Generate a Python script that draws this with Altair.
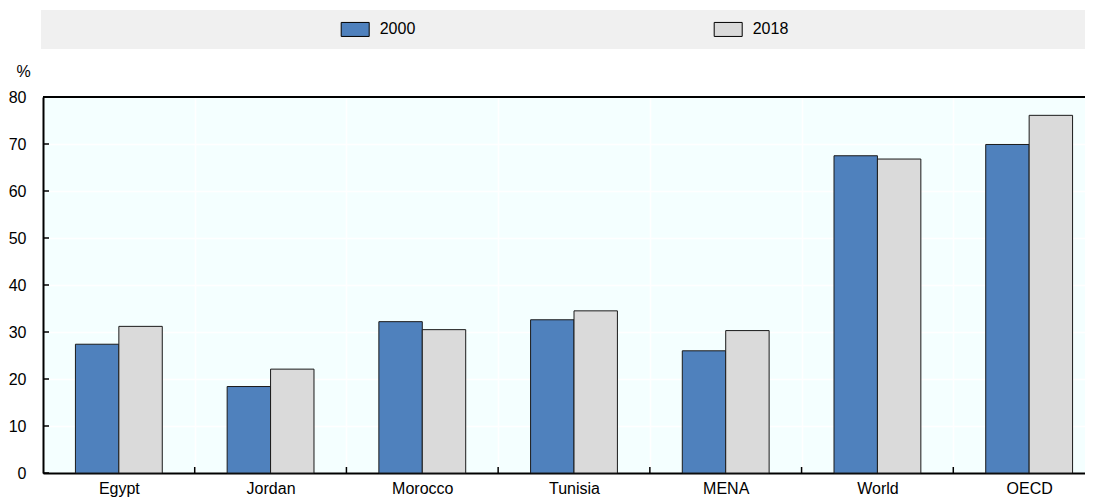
import altair as alt
import pandas as pd

countries = ["Egypt", "Jordan", "Morocco", "Tunisia", "MENA", "World", "OECD"]
years = ["2000", "2018"]
values_2000 = [27.4, 18.4, 32.2, 32.6, 26.0, 67.5, 69.9]
values_2018 = [31.2, 22.1, 30.5, 34.5, 30.3, 66.8, 76.1]
y_ticks = [0, 10, 20, 30, 40, 50, 60, 70, 80]
colors = ["#4F81BD", "#DADADA"]

rows = []
for c, a, b in zip(countries, values_2000, values_2018):
    rows.append({"country": c, "year": years[0], "value": a})
    rows.append({"country": c, "year": years[1], "value": b})
df = pd.DataFrame(rows)
tick_df = pd.DataFrame({"v": y_ticks})
xtick_df = pd.DataFrame({"country": countries[1:]})
one = pd.DataFrame({"a": [0]})

FONT = "Liberation Sans, Arial, sans-serif"
FS = 16
RANGE_W = 1062
PLOT_W = 1042
PLOT_H = 376

xscale = alt.Scale(domain=countries, range=[0, RANGE_W], paddingInner=0, paddingOuter=0)
yscale = alt.Scale(domain=[0, 80])

x_axis = alt.Axis(
    tickBand="extent", grid=True, gridColor="white", gridWidth=1.5,
    ticks=False, domainColor="black", domainWidth=2,
    labelFont=FONT, labelFontSize=FS, labelColor="black", labelPadding=7,
    labelAngle=0, title=None,
)
y_axis = alt.Axis(
    values=y_ticks, grid=True, gridColor="white", gridWidth=1.5,
    ticks=False, domainColor="black", domainWidth=2,
    labelFont=FONT, labelFontSize=FS, labelColor="black", labelPadding=17,
    title="%", titleAngle=0, titleX=-20, titleY=-26, titleFont=FONT,
    titleFontSize=FS, titleFontWeight="normal", titleColor="black",
    titleAlign="center", titleBaseline="middle",
)

legend_bg = alt.Chart(one).mark_rect(color="#F0F0F0").encode(
    x=alt.value(-2), x2=alt.value(RANGE_W), y=alt.value(-87), y2=alt.value(-48)
)

bars = alt.Chart(df).mark_bar(stroke="#1a1a1a", strokeWidth=1).encode(
    x=alt.X("country:N", scale=xscale, axis=x_axis, sort=countries),
    xOffset=alt.XOffset("year:N", scale=alt.Scale(domain=years, paddingOuter=0.747, paddingInner=0)),
    y=alt.Y("value:Q", scale=yscale, axis=y_axis),
    color=alt.Color(
        "year:N",
        scale=alt.Scale(domain=years, range=colors),
        legend=alt.Legend(
            orient="none", legendX=297.7, legendY=-82.3, direction="horizontal",
            title=None, padding=0, columnPadding=296, labelOffset=10,
            symbolType="M-1,-0.5H1V0.5H-1Z", symbolSize=784,
            symbolStrokeColor="black", symbolStrokeWidth=1,
            labelFont=FONT, labelFontSize=FS, labelColor="black",
        ),
    ),
)

yticks = alt.Chart(tick_df).mark_rule(color="black", strokeWidth=1.5).encode(
    y=alt.Y("v:Q", scale=yscale), x=alt.value(0), x2=alt.value(6)
)
xticks = alt.Chart(xtick_df).mark_rule(color="black", strokeWidth=1.5).encode(
    x=alt.X("country:N", scale=xscale, bandPosition=0),
    y=alt.value(PLOT_H - 6), y2=alt.value(PLOT_H),
)
top_line = alt.Chart(one).mark_rule(color="black", strokeWidth=2).encode(
    x=alt.value(0), x2=alt.value(RANGE_W), y=alt.value(0)
)

chart = alt.layer(legend_bg, bars, yticks, xticks, top_line).properties(
    width=PLOT_W, height=PLOT_H,
    padding={"left": 35, "top": 89, "right": 0, "bottom": 25},
    autosize=alt.AutoSizeParams(type="none"),
).configure_view(fill="#F4FFFF", stroke=None)

chart.save("out.html", embed_options={"renderer": "svg", "actions": False})
